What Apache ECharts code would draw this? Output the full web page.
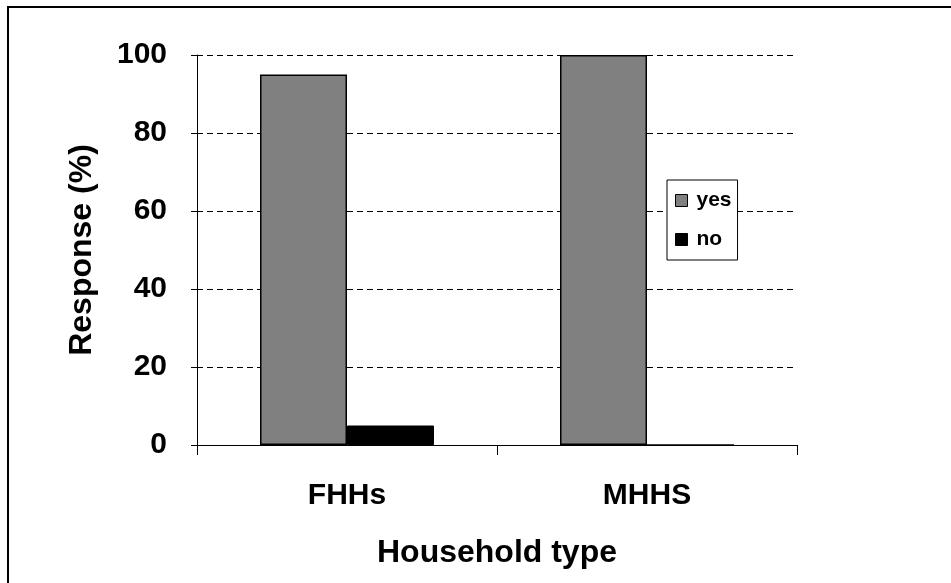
<!DOCTYPE html>
<html>
<head>
<meta charset="utf-8">
<script src="https://cdn.jsdelivr.net/npm/echarts@6/dist/echarts.min.js"></script>
<style>
  html, body { margin: 0; padding: 0; background: #fff; }
  #frame { position: absolute; left: 7px; top: 6px; width: 960px; height: 600px;
           border-left: 2px solid #000; border-top: 2px solid #000; box-sizing: border-box; }
  #chart { position: absolute; left: 0; top: 0; width: 951px; height: 583px; }
</style>
</head>
<body>
<div id="frame"></div>
<div id="chart"></div>
<script>
// Household types and the share answering yes / no
const categories = ['FHHs', 'MHHS'];
const yesValues = [95, 100];
const noValues = [5, 0];
const yTicks = [0, 20, 40, 60, 80, 100];

const font = 'Arial, "Liberation Sans", sans-serif';
const chart = echarts.init(document.getElementById('chart'));

chart.setOption({
  animation: false,
  backgroundColor: 'transparent',
  grid: { left: 197, right: 154, top: 55, bottom: 138, containLabel: false },
  legend: {
    orient: 'vertical',
    left: 667, top: 180,
    padding: [10, 6, 10, 8],
    itemGap: 18,
    itemWidth: 12, itemHeight: 12,
    borderColor: '#000', borderWidth: 1,
    backgroundColor: '#fff',
    icon: 'rect',
    textStyle: { fontFamily: font, fontWeight: 'bold', fontSize: 21, color: '#000', padding: [0, 0, 0, 4] },
    data: [
      { name: 'yes', itemStyle: { color: '#808080', borderColor: '#000', borderWidth: 1 } },
      { name: 'no', itemStyle: { color: '#000', borderColor: '#000', borderWidth: 1 } }
    ]
  },
  xAxis: {
    type: 'category',
    data: categories,
    name: 'Household type',
    nameLocation: 'middle',
    nameGap: 92,
    nameTextStyle: { fontFamily: font, fontWeight: 'bold', fontSize: 32, color: '#000' },
    axisLine: { lineStyle: { color: '#000', width: 1 } },
    axisTick: { show: true, length: 10, interval: 0, lineStyle: { color: '#000' } },
    axisLabel: { fontFamily: font, fontWeight: 'bold', fontSize: 30, color: '#000', margin: 36 },
    splitLine: { show: false }
  },
  yAxis: {
    type: 'value',
    min: 0, max: 100, interval: 20,
    name: 'Response (%)',
    nameLocation: 'middle',
    nameGap: 99,
    nameRotate: 90,
    nameTextStyle: { fontFamily: font, fontWeight: 'bold', fontSize: 32, color: '#000' },
    axisLine: { show: true, lineStyle: { color: '#000', width: 1 } },
    axisTick: { show: true, length: 6, lineStyle: { color: '#000' } },
    axisLabel: {
      fontFamily: font, fontWeight: 'bold', fontSize: 30, color: '#000', margin: 30,
      formatter: v => yTicks.includes(v) ? String(v) : ''
    },
    splitLine: { show: true, lineStyle: { color: '#000', type: [6, 4], width: 1 } }
  },
  series: [
    {
      name: 'yes', type: 'bar', data: yesValues,
      barWidth: 87, barGap: '0%',
      itemStyle: { color: '#808080', borderColor: '#000', borderWidth: 1.5 }
    },
    {
      name: 'no', type: 'bar', data: noValues,
      barWidth: 87, barGap: '0%',
      itemStyle: { color: '#000', borderColor: '#000', borderWidth: 1 }
    }
  ]
});
</script>
</body>
</html>
